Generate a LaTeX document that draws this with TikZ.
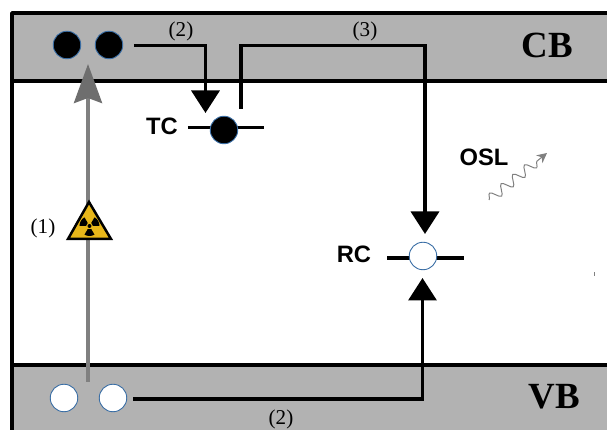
\documentclass[tikz,border=0pt]{standalone}
\usepackage{fontspec}
\setmainfont{Liberation Serif}
\setsansfont{Liberation Sans}
\usetikzlibrary{arrows.meta, decorations.pathmorphing}
\definecolor{bandgray}{HTML}{B2B2B2}
\definecolor{dotblue}{HTML}{3A6EA5}
\definecolor{hazard}{HTML}{E8B71A}
\tikzset{
  band/.style={fill=bandgray, draw=none},
  edge/.style={line width=.07cm},
  trap/.style={circle, draw=dotblue, line width=.018cm, minimum size=.55cm, inner sep=0pt, outer sep=0pt},
  full/.style={trap, fill=black},
  empty/.style={trap, fill=white},
  jump/.style={line width=.07cm, -{Triangle[length=.45cm, width=.56cm]}},
  tag/.style={font=\fontsize{12}{14}\selectfont, inner sep=0pt},
  bandname/.style={font=\bfseries\fontsize{21}{24}\selectfont, inner sep=0pt},
  level/.style={font=\sffamily\bfseries\fontsize{13.5}{16}\selectfont, inner sep=0pt}
}
\begin{document}
\begin{tikzpicture}
\useasboundingbox (0,0) rectangle (12.14,8.6);

\fill[band] (.24,6.98) rectangle (12.14,8.34);
\fill[band] (.24,0) rectangle (12.14,1.3);

% frame and band edges
\coordinate (fbl) at (.24,0);
\coordinate (ftl) at (.24,8.34);
\coordinate (ftr) at (12.14,8.34);
\coordinate (cbl) at (.24,6.98);
\coordinate (cbr) at (12.14,6.98);
\coordinate (vbl) at (.24,1.3);
\coordinate (vbr) at (12.14,1.3);
\draw [edge, line join=round] (fbl) -- (ftl) -- (ftr);
\draw [edge] (cbl) -- (cbr);
\draw [edge] (vbl) -- (vbr);

% trap levels
\coordinate (tcl) at (3.76,6.05);
\coordinate (tcr) at (5.28,6.05);
\coordinate (rcl) at (7.74,3.44);
\coordinate (rcr) at (9.28,3.44);
\draw [edge] (tcl) -- (tcr);
\draw [edge] (rcl) -- (rcr);

\node [full] (cb1) at (1.34,7.7) {};
\node [full] (cb2) at (2.18,7.7) {};
\node [empty] (vb1) at (1.28,.64) {};
\node [empty] (vb2) at (2.26,.64) {};
\node [full] (tc) at (4.48,6.0) {};
\node [empty] (rc) at (8.46,3.48) {};

% ionisation
\coordinate (ion1) at (1.76,.96);
\coordinate (ion2) at (1.76,7.32);
\draw [line width=.08cm, color=gray, -{Stealth[length=.78cm, width=.56cm, inset=.1cm, color=black!57]}] (ion1) -- (ion2);

% hazard sign
\draw [fill=hazard, line width=.05cm, line join=miter] (1.78,4.56) -- (2.22,3.82) -- (1.36,3.82) -- cycle;
\fill (1.79,4.08) circle (.04);
\foreach \ang in {30,150,270}
  \fill (1.79,4.08) ++(\ang-30:.07) arc (\ang-30:\ang+30:.07) -- ++(\ang+30:.13) arc (\ang+30:\ang-30:.2) -- cycle;

% trapping
\coordinate (t2a) at (2.68,7.69);
\coordinate (t2b) at (4.11,6.34);
\draw [jump] (t2a) -| (t2b);
\coordinate (t3a) at (4.82,6.42);
\coordinate (t3b) at (4.82,7.69);
\coordinate (t3c) at (8.5,3.92);
\draw [jump] (t3a) -- (t3b) -| (t3c);
\coordinate (t4a) at (2.66,.62);
\coordinate (t4b) at (8.45,3.04);
\draw [jump] (t4a) -| (t4b);

% luminescence
\coordinate (osla) at (9.78,4.6);
\coordinate (oslb) at (10.94,5.54);
\draw [color=gray, line width=.02cm, -{Stealth[length=.2cm, width=.2cm, color=black!50]},
  decorate, decoration={snake, amplitude=.1cm, segment length=.3cm, post length=.14cm}] (osla) -- (oslb);

\coordinate (speck1) at (11.88,3.15);
\coordinate (speck2) at (11.88,3.07);
\draw [color=gray, line width=.02cm] (speck1) -- (speck2);

\node [tag] (l1) at (.86,4.04) {(1)};
\node [tag] (l2) at (3.62,7.98) {(2)};
\node [tag] (l3) at (7.3,7.98) {(3)};
\node [tag] (l4) at (5.62,.22) {(2)};
\node [bandname] (cb) at (10.95,7.7) {CB};
\node [bandname] (vb) at (11.08,.66) {VB};
\node [level] (tcname) at (3.24,6.08) {TC};
\node [level] (rcname) at (7.08,3.52) {RC};
\node [level] (osl) at (9.68,5.46) {OSL};
\end{tikzpicture}
\end{document}
